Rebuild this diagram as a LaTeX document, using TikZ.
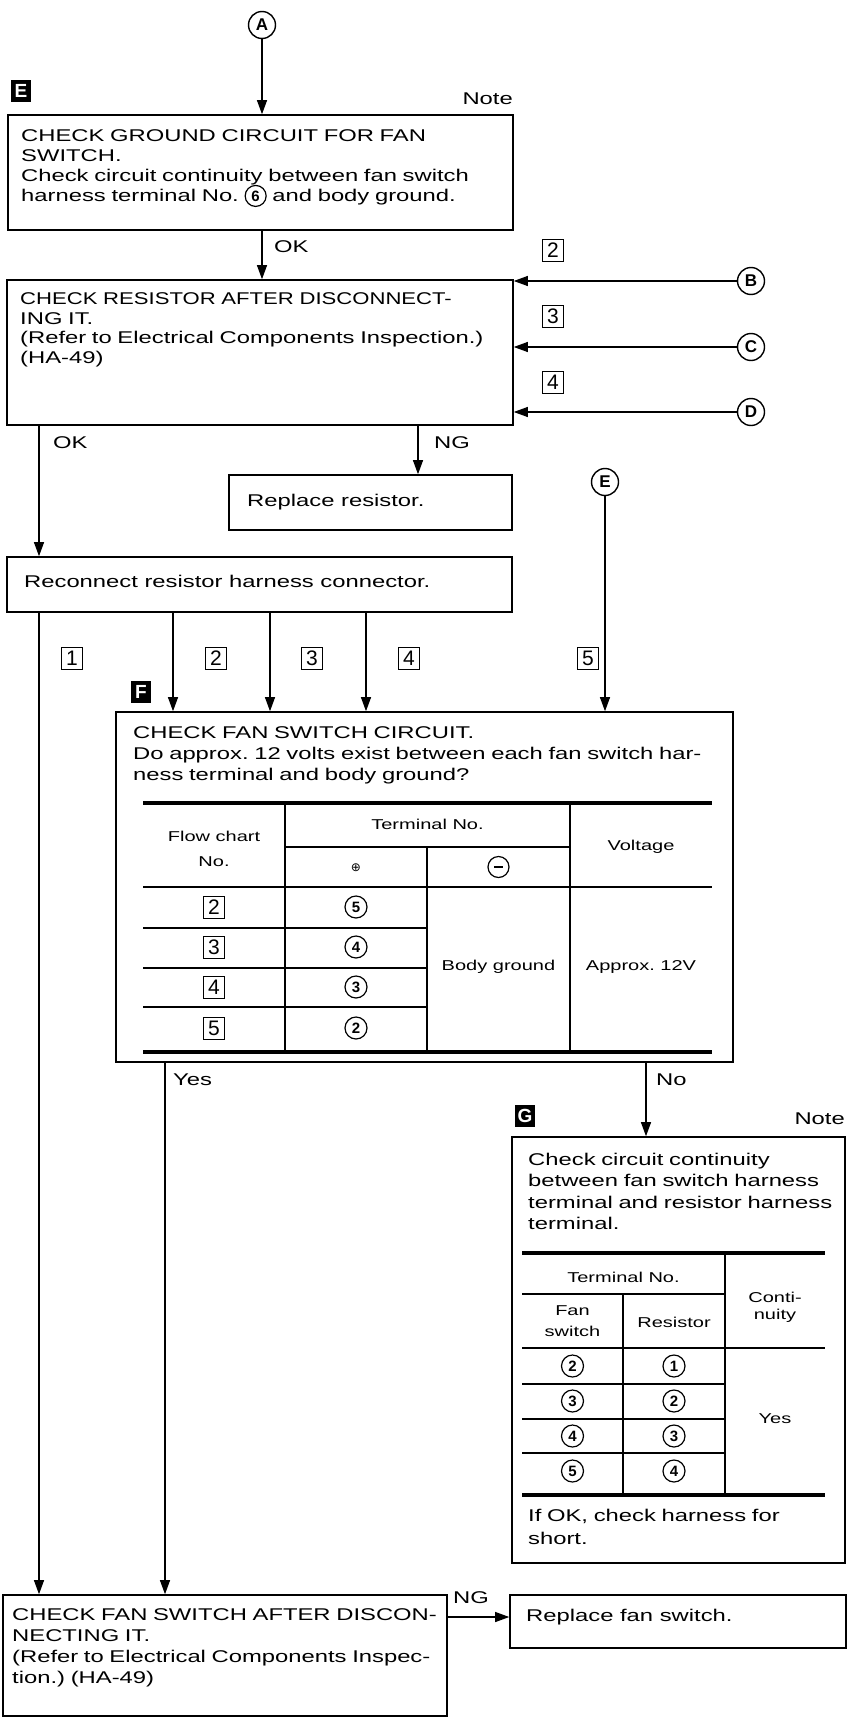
\documentclass[tikz,border=0pt]{standalone}
\usepackage{fontspec}
\setmainfont{Liberation Sans}[FakeStretch=1.4]
\newfontfamily\plainsans{Liberation Sans}
\newfontfamily\narrowsans{Liberation Sans}[FakeStretch=1.3]
\newfontfamily\dejavu{DejaVu Sans}
\usetikzlibrary{arrows.meta,fit}
\frenchspacing
\newcommand\bodysize{\fontsize{17}{19.7}\selectfont}
\newcommand\tabsize{\fontsize{14.3}{18}\selectfont}
\newcommand\cnum[1]{\smash{\tikz[baseline=(cn.base)]\node[circle,draw,line width=1.2pt,inner sep=0pt,minimum size=21pt,font=\plainsans\bfseries\fontsize{15}{15}\selectfont](cn){#1};}}
\begin{document}
\begin{tikzpicture}[x=1pt,y=-1pt,
  box/.style={draw,line width=1.6pt,inner sep=0pt},
  txt/.style={anchor=base west,inner sep=0pt,align=left,font=\bodysize},
  lbl/.style={inner sep=0pt,font=\bodysize},
  tab/.style={inner sep=0pt,font=\tabsize},
  arr/.style={line width=1.1pt,-{Triangle[width=10pt,length=14pt]}},
  numbox/.style={draw,line width=1pt,minimum width=21pt,minimum height=22pt,inner sep=0pt,font=\plainsans\fontsize{21}{21}\selectfont},
  letc/.style={circle,draw,line width=1.4pt,minimum size=27pt,inner sep=0pt,font=\plainsans\bfseries\fontsize{17}{17}\selectfont},
  cnode/.style={circle,draw,line width=1.2pt,minimum size=22pt,inner sep=0pt,font=\plainsans\bfseries\fontsize{15}{15}\selectfont},
  blk/.style={fill=black,text=white,minimum width=20pt,minimum height=22pt,inner sep=0pt,font=\plainsans\bfseries\fontsize{19}{19}\selectfont},
  trule/.style={line width=3.5pt},
  tline/.style={line width=1.2pt}]
\useasboundingbox (0,0) rectangle (850,1718);
\fill[white] (0,0) rectangle (850,1718);

% ---------- column coordinates ----------
\coordinate (okx) at (39,0);
\coordinate (ngx) at (418,0);
\coordinate (x2) at (173,0);
\coordinate (x3) at (270,0);
\coordinate (x4) at (366,0);
\coordinate (yesx) at (165,0);
\coordinate (nox) at (646,0);
\coordinate (ngy) at (0,1617);

% ---------- box E ----------
\node[letc] (A) at (262,25) {A};
\node[box,fit={(8,115) (513,230)}] (E) {};
\node[blk] (Elab) at (21,91) {E};
\node[lbl,anchor=base east] (Enote) at (513,104.5) {Note};
\node[txt,text width=488pt] (Et) at (21,142) {CHECK GROUND CIRCUIT FOR FAN\\SWITCH.\\Check circuit continuity between fan switch\\harness terminal No. \cnum{6} and body ground.};
\draw[arr] (A) -- (A |- E.north);

% ---------- resistor check ----------
\node[box,fit={(7,280) (513,425)}] (R) {};
\draw[arr] (E.south -| A) -- (R.north -| A);
\node[lbl,anchor=west] (ok1) at (274,247) {OK};
\node[txt,text width=488pt] (Rt) at (20,304.5) {{\narrowsans CHECK RESISTOR AFTER DISCONNECT-}\\ING IT.\\(Refer to Electrical Components Inspection.)\\(HA-49)};
\node[letc] (B) at (751,281) {B};
\node[letc] (C) at (751,347) {C};
\node[letc] (D) at (751,412) {D};
\draw[arr] (B) -- (B -| R.east);
\draw[arr] (C) -- (C -| R.east);
\draw[arr] (D) -- (D -| R.east);
\node[numbox] (nb2) at (553,250) {2};
\node[numbox] (nb3) at (553,316) {3};
\node[numbox] (nb4) at (553,382) {4};

% ---------- replace resistor / reconnect ----------
\node[box,fit={(229,475) (512,530)}] (RR) {};
\node[txt] (RRt) at (247,506) {Replace resistor.};
\draw[arr] (R.south -| ngx) -- (RR.north -| ngx);
\node[lbl,anchor=west] (ng1) at (434,443) {NG};
\node[box,fit={(7,557) (512,612)}] (RC) {};
\node[txt] (RCt) at (24,587) {Reconnect resistor harness connector.};
\draw[arr] (R.south -| okx) -- (RC.north -| okx);
\node[lbl,anchor=west] (ok2) at (53,443) {OK};
\node[letc] (Ec) at (605,482) {E};

% ---------- box F ----------
\node[box,fit={(116,712) (733,1062)}] (F) {};
\node[blk] (Flab) at (141,692) {F};
\draw[arr] (RC.south -| x2) -- (F.north -| x2);
\draw[arr] (RC.south -| x3) -- (F.north -| x3);
\draw[arr] (RC.south -| x4) -- (F.north -| x4);
\draw[arr] (Ec) -- (Ec |- F.north);
\node[numbox] (l1) at (72,658) {1};
\node[numbox] (l2) at (216,658) {2};
\node[numbox] (l3) at (312,658) {3};
\node[numbox] (l4) at (409,658) {4};
\node[numbox] (l5) at (588,658) {5};
\node[txt,text width=595pt,font=\fontsize{17}{20.8}\selectfont] (Ft) at (133,738.5) {CHECK FAN SWITCH CIRCUIT.\\Do approx. 12 volts exist between each fan switch har-\\ness terminal and body ground?};
% table F
\draw[trule] (143,803) -- (712,803);
\draw[trule] (143,1052) -- (712,1052);
\draw[tline] (143,887) -- (712,887);
\draw[tline] (285,847) -- (570,847);
\draw[tline] (285,803) -- (285,1052);
\draw[tline] (427,847) -- (427,1052);
\draw[tline] (570,803) -- (570,1052);
\foreach \yy in {928,968,1007} \draw[tline] (143,\yy) -- (427,\yy);
\node[tab] (fh1) at (214,836) {Flow chart};
\node[tab] (fh2) at (214,862) {No.};
\node[tab] (fh3) at (427.5,824) {Terminal No.};
\node[tab] (fh4) at (641,847) {Voltage};
\node[inner sep=0pt,font=\dejavu\fontsize{12}{12}\selectfont] (fplus) at (356,868) {⊕};
\node[circle,draw,line width=1.2pt,minimum size=21pt,inner sep=0pt] (fminus) at (498.5,867) {\rule{9pt}{1.3pt}};
\node[numbox] (fr2) at (214,907) {2};
\node[numbox] (fr3) at (214,947) {3};
\node[numbox] (fr4) at (214,987) {4};
\node[numbox] (fr5) at (214,1028) {5};
\node[cnode] (fc5) at (356,907) {5};
\node[cnode] (fc4) at (356,947) {4};
\node[cnode] (fc3) at (356,987) {3};
\node[cnode] (fc2) at (356,1028) {2};
\node[tab] (fbg) at (498.5,967) {Body ground};
\node[tab] (fav) at (641,967) {Approx. 12V};

% ---------- box G ----------
\node[box,fit={(512,1137) (845,1563)}] (G) {};
\node[blk] (Glab) at (525,1116) {G};
\node[lbl,anchor=base east] (Gnote) at (845,1124.5) {Note};
\draw[arr] (F.south -| nox) -- (G.north -| nox);
\node[lbl,anchor=west] (no) at (656,1080) {No};
\node[txt,text width=315pt,font=\fontsize{17}{21.5}\selectfont] (Gt) at (528,1165) {Check circuit continuity\\between fan switch harness\\terminal and resistor harness\\terminal.};
\draw[trule] (522,1253) -- (825,1253);
\draw[trule] (522,1495) -- (825,1495);
\draw[tline] (522,1294) -- (725,1294);
\draw[tline] (522,1348) -- (825,1348);
\draw[tline] (623,1294) -- (623,1495);
\draw[tline] (725,1253) -- (725,1495);
\foreach \yy in {1384,1419,1453} \draw[tline] (522,\yy) -- (725,\yy);
\node[tab] (gh1) at (623.5,1277) {Terminal No.};
\node[tab] (gh2) at (572.5,1311) {Fan};
\node[tab] (gh3) at (572.5,1331) {switch};
\node[tab] (gh4) at (674,1322) {Resistor};
\node[tab] (gh5) at (775,1297) {Conti-};
\node[tab] (gh6) at (775,1316) {nuity};
\node[cnode] (ga2) at (572.5,1366) {2};
\node[cnode] (ga3) at (572.5,1401) {3};
\node[cnode] (ga4) at (572.5,1436) {4};
\node[cnode] (ga5) at (572.5,1471) {5};
\node[cnode] (gb1) at (674,1366) {1};
\node[cnode] (gb2) at (674,1401) {2};
\node[cnode] (gb3) at (674,1436) {3};
\node[cnode] (gb4) at (674,1471) {4};
\node[tab] (gyes) at (775,1419) {Yes};
\node[txt,text width=310pt,font=\fontsize{17}{23}\selectfont] (Gt2) at (528,1521.5) {If OK, check harness for\\short.};

% ---------- final boxes ----------
\node[box,fit={(3,1595) (447,1716)}] (FIN) {};
\node[txt,text width=430pt,font=\fontsize{17}{21}\selectfont] (FINt) at (12,1620.5) {CHECK FAN SWITCH AFTER DISCON-\\NECTING IT.\\(Refer to Electrical Components Inspec-\\tion.) (HA-49)};
\node[box,fit={(510,1595) (846,1648)}] (RFS) {};
\node[txt] (RFSt) at (526,1621) {Replace fan switch.};
\draw[arr] (RC.south -| okx) -- (FIN.north -| okx);
\draw[arr] (F.south -| yesx) -- (FIN.north -| yesx);
\node[lbl,anchor=west] (yes) at (173,1080) {Yes};
\draw[arr] (FIN.east |- ngy) -- (RFS.west |- ngy);
\node[lbl,anchor=west] (ng2) at (453,1598) {NG};
\end{tikzpicture}
\end{document}
